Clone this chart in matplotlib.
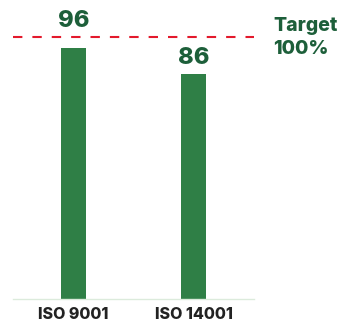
import matplotlib
matplotlib.use('Agg')
import matplotlib.pyplot as plt

# data
categories = ["ISO 9001", "ISO 14001"]
values = [96, 86]
TARGET = 100

BAR = "#2f7f46"
DARK = "#1d5f3a"
RED = "#e3192c"

plt.rcParams['font.family'] = ['Inter', 'DejaVu Sans']

fig = plt.figure(figsize=(3.48, 3.22), dpi=100)
ax = fig.add_axes([13/348, 23/322, 241/348, 288/322])

x = list(range(len(categories)))
ax.bar(x, values, width=0.21, color=BAR, zorder=2)
ax.set_xlim(-0.504, 1.504)
ax.set_ylim(0, 110)

# target line
ax.axhline(TARGET, color=RED, lw=1.5, dashes=(4.5, 4.8), zorder=3)
ax.text(1.665, TARGET, "Target\n100%", ha='left', va='center', fontsize=14,
        fontweight='heavy', color=DARK, linespacing=1.35, clip_on=False)

# value labels (pushed above the target line when they would collide)
for xi, v in zip(x, values):
    y = TARGET if v > TARGET - 8 else v
    ax.annotate(f"{v}", xy=(xi, y), xytext=(0, 7), textcoords='offset points',
                ha='center', va='baseline', fontsize=17, fontweight='heavy',
                color=DARK)

ax.set_xticks(x)
ax.set_xticklabels(categories, fontsize=11.5, fontweight='heavy', color='#222222')
ax.tick_params(axis='x', length=0, pad=6)
ax.set_yticks([])
for s in ['top', 'right', 'left']:
    ax.spines[s].set_visible(False)
ax.spines['bottom'].set_color('#dcebdc')
ax.spines['bottom'].set_linewidth(1)

fig.savefig("out.png", dpi=100, facecolor='white')
